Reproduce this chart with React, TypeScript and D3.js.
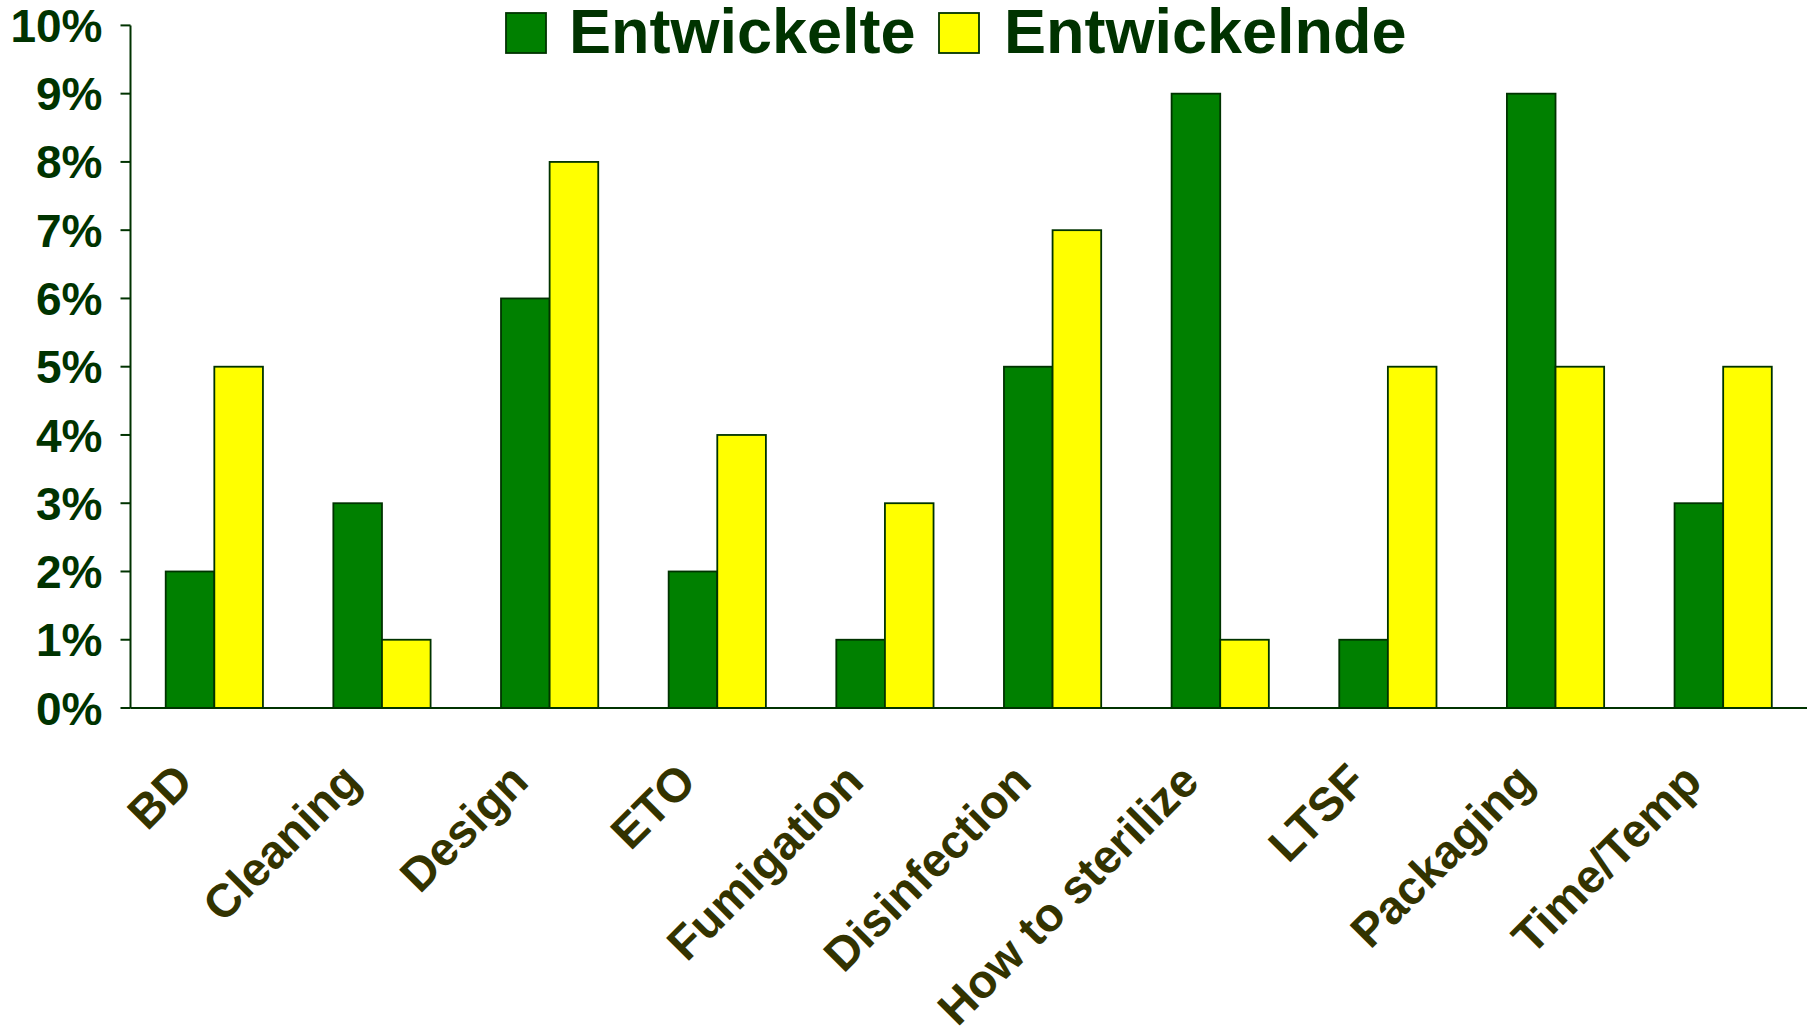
import React, { useEffect, useRef } from 'react'
import * as d3 from 'd3'

// chart data
const categories = ['BD', 'Cleaning', 'Design', 'ETO', 'Fumigation', 'Disinfection', 'How to sterilize', 'LTSF', 'Packaging', 'Time/Temp']
const entwickelte = [2, 3, 6, 2, 1, 5, 9, 1, 9, 3]
const entwickelnde = [5, 1, 8, 4, 3, 7, 1, 5, 5, 5]
const seriesNames = ['Entwickelte', 'Entwickelnde']
const seriesColors = ['#008000', '#FFFF00']
const yTicks = [0, 1, 2, 3, 4, 5, 6, 7, 8, 9, 10]

const W = 1811
const H = 1033
const FONT = '"Liberation Sans", Arial, sans-serif'

const App: React.FC = () => {
  const svgRef = useRef<SVGSVGElement>(null)

  useEffect(() => {
    const svg = d3.select(svgRef.current)
    svg.selectAll('*').remove()

    const left = 130.5
    const right = 1807
    const top = 25.4
    const bottom = 708

    const x0 = d3.scaleBand<string>()
      .domain(categories)
      .range([left, right])
      .paddingInner(0.42)
      .paddingOuter(0.21)

    const x1 = d3.scaleBand<number>()
      .domain([0, 1])
      .range([0, x0.bandwidth()])

    const y = d3.scaleLinear().domain([0, 10]).range([bottom, top])

    const rows = categories.map((c, i) => ({ cat: c, vals: [entwickelte[i], entwickelnde[i]] }))

    // bars
    const groups = svg.append('g')
      .selectAll('g')
      .data(rows)
      .enter()
      .append('g')
      .attr('transform', d => `translate(${x0(d.cat)},0)`)

    groups.selectAll('rect')
      .data(d => d.vals.map((v, k) => ({ v, k })))
      .enter()
      .append('rect')
      .attr('x', d => x1(d.k) as number)
      .attr('y', d => y(d.v))
      .attr('width', x1.bandwidth())
      .attr('height', d => bottom - y(d.v))
      .attr('fill', d => seriesColors[d.k])
      .attr('stroke', '#003300')
      .attr('stroke-width', 1.8)

    // y axis
    const yAxis = svg.append('g').attr('transform', `translate(${left},0)`)
    yAxis.append('line')
      .attr('x1', 0).attr('x2', 0)
      .attr('y1', y(10)).attr('y2', y(0))
      .attr('stroke', '#003300').attr('stroke-width', 2)
    yAxis.selectAll('.tick')
      .data(yTicks)
      .enter()
      .append('line')
      .attr('x1', -10).attr('x2', 0)
      .attr('y1', d => y(d)).attr('y2', d => y(d))
      .attr('stroke', '#003300').attr('stroke-width', 2)
    yAxis.selectAll('.lbl')
      .data(yTicks)
      .enter()
      .append('text')
      .attr('x', -28)
      .attr('y', d => y(d))
      .attr('dy', '0.36em')
      .attr('text-anchor', 'end')
      .attr('font-family', FONT)
      .attr('font-weight', 'bold')
      .attr('font-size', 46)
      .attr('fill', '#003300')
      .text(d => `${d}%`)

    // x axis
    svg.append('line')
      .attr('x1', left).attr('x2', right)
      .attr('y1', bottom).attr('y2', bottom)
      .attr('stroke', '#003300').attr('stroke-width', 2)

    svg.append('g')
      .selectAll('text')
      .data(categories)
      .enter()
      .append('text')
      .attr('transform', d => {
        const cx = (x0(d) as number) + x0.bandwidth() / 2 - 19
        return `translate(${cx},${bottom + 76}) rotate(-45)`
      })
      .attr('text-anchor', 'end')
      .attr('font-family', FONT)
      .attr('font-weight', 'bold')
      .attr('font-size', 47)
      .attr('fill', '#333300')
      .text(d => d)

    // legend
    const legendX = [506, 939]
    const textX = [569, 1004]
    const legend = svg.append('g')
    seriesNames.forEach((name, k) => {
      legend.append('rect')
        .attr('x', legendX[k])
        .attr('y', 13)
        .attr('width', 40)
        .attr('height', 40)
        .attr('fill', seriesColors[k])
        .attr('stroke', '#003300')
        .attr('stroke-width', 1.8)
      legend.append('text')
        .attr('x', textX[k])
        .attr('y', 53)
        .attr('font-family', FONT)
        .attr('font-weight', 'bold')
        .attr('font-size', 63)
        .attr('fill', '#003300')
        .text(name)
    })
  }, [])

  return (
    <svg
      ref={svgRef}
      width={W}
      height={H}
      style={{ position: 'absolute', left: 0, top: 0, background: '#fff' }}
    ></svg>
  )
}

export default App
